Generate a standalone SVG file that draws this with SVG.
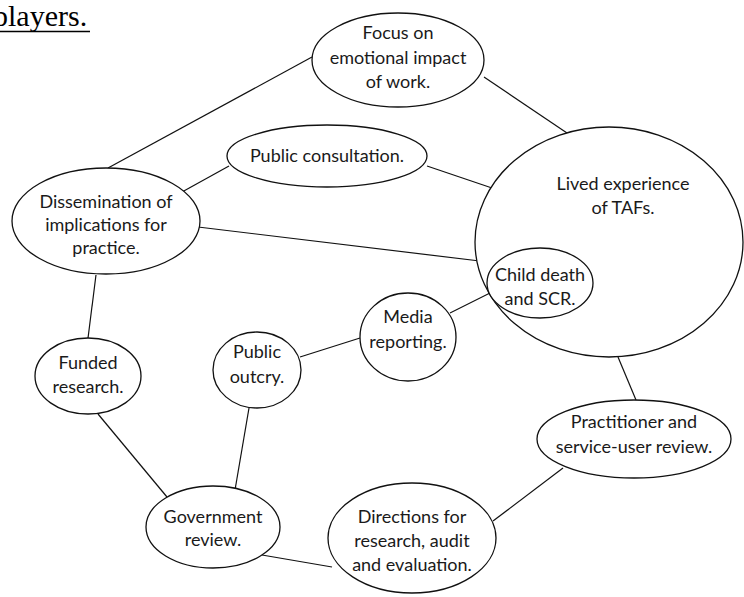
<svg xmlns="http://www.w3.org/2000/svg" width="744" height="597" viewBox="0 0 744 597">
<style>
.n{fill:#fff;stroke:#111;stroke-width:1.3}
.t{font-family:Lato,"Open Sans",sans-serif;font-size:18px;fill:#1a1a1a;text-anchor:middle}
.c{stroke:#111;stroke-width:1.2;fill:none}
</style>
<rect width="744" height="597" fill="#fff"/>
<g id="heading">
<text x="-7" y="26" font-family="Liberation Serif, serif" font-size="30" fill="#000">players.</text>
<line x1="0" y1="31.5" x2="90" y2="31.5" stroke="#000" stroke-width="1.4"/>
</g>
<g id="connectors">
<line class="c" x1="108" y1="168" x2="312" y2="57"/>
<line class="c" x1="484" y1="77" x2="567" y2="133"/>
<line class="c" x1="182" y1="192" x2="229" y2="166"/>
<line class="c" x1="427" y1="166" x2="492" y2="188"/>
<line class="c" x1="198" y1="227" x2="488" y2="262"/>
<line class="c" x1="450" y1="313" x2="490" y2="293"/>
<line class="c" x1="300" y1="357" x2="360" y2="338"/>
<line class="c" x1="249" y1="408" x2="235" y2="490"/>
<line class="c" x1="96" y1="275" x2="88" y2="338"/>
<line class="c" x1="98" y1="414" x2="167" y2="497"/>
<line class="c" x1="262" y1="555" x2="332" y2="567"/>
<line class="c" x1="493" y1="521" x2="563" y2="468"/>
<line class="c" x1="618" y1="357" x2="636" y2="400"/>
</g>
<g id="focus">
<ellipse class="n" cx="398" cy="60" rx="86" ry="47"/>
<text class="t" x="398" y="39">Focus on</text>
<text class="t" x="398" y="64">emotional impact</text>
<text class="t" x="398" y="88">of work.</text>
</g>
<g id="dissemination">
<ellipse class="n" cx="106" cy="221" rx="94" ry="53"/>
<text class="t" x="106" y="208">Dissemination of</text>
<text class="t" x="106" y="231">implications for</text>
<text class="t" x="106" y="254">practice.</text>
</g>
<g id="consultation">
<ellipse class="n" cx="327" cy="156" rx="100" ry="31"/>
<text class="t" x="327" y="162">Public consultation.</text>
</g>
<g id="lived">
<ellipse class="n" cx="609" cy="242" rx="134" ry="115"/>
<text class="t" x="623" y="190">Lived experience</text>
<text class="t" x="623" y="214">of TAFs.</text>
</g>
<g id="child">
<ellipse class="n" cx="540" cy="283" rx="53" ry="35"/>
<text class="t" x="540" y="281">Child death</text>
<text class="t" x="540" y="305">and SCR.</text>
</g>
<g id="media">
<ellipse class="n" cx="408" cy="337" rx="48" ry="44"/>
<text class="t" x="408" y="323">Media</text>
<text class="t" x="408" y="348">reporting.</text>
</g>
<g id="outcry">
<ellipse class="n" cx="257" cy="370" rx="44" ry="38"/>
<text class="t" x="257" y="358">Public</text>
<text class="t" x="257" y="383">outcry.</text>
</g>
<g id="funded">
<ellipse class="n" cx="88" cy="376" rx="53" ry="38"/>
<text class="t" x="88" y="369">Funded</text>
<text class="t" x="88" y="393">research.</text>
</g>
<g id="practitioner">
<ellipse class="n" cx="634" cy="439" rx="97" ry="39"/>
<text class="t" x="634" y="428">Practitioner and</text>
<text class="t" x="634" y="453">service-user review.</text>
</g>
<g id="government">
<ellipse class="n" cx="213" cy="527" rx="67" ry="41"/>
<text class="t" x="213" y="523">Government</text>
<text class="t" x="213" y="546">review.</text>
</g>
<g id="directions">
<ellipse class="n" cx="412" cy="538" rx="84" ry="55"/>
<text class="t" x="412" y="523">Directions for</text>
<text class="t" x="412" y="547">research, audit</text>
<text class="t" x="412" y="571">and evaluation.</text>
</g>
</svg>
